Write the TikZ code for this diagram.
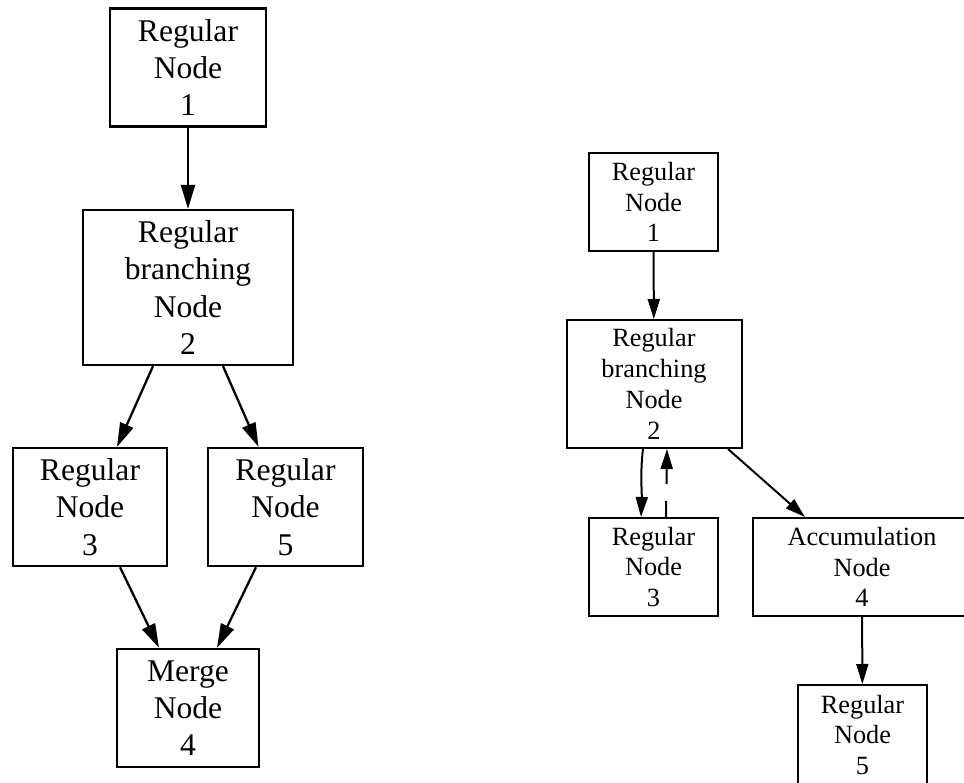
\documentclass[tikz,border=0pt]{standalone}
\usepackage{fontspec}
\setmainfont{Liberation Serif}
\usetikzlibrary{arrows.meta,calc}
\begin{document}
\begin{tikzpicture}[x=1pt,y=-1pt,
  bigbox/.style={draw,line width=2.3pt,inner sep=0pt,align=center,
    font=\fontsize{31.6}{37.2}\selectfont},
  smallbox/.style={draw,line width=2pt,inner sep=0pt,align=center,
    font=\fontsize{26.3}{30.8}\selectfont},
  bigedge/.style={line width=2.3pt,-{Triangle[length=24pt,width=14pt]}},
  smalledge/.style={line width=2pt,-{Triangle[length=20pt,width=12pt]}},
]
\useasboundingbox (0,0) rectangle (964,783);
\clip (0,0) rectangle (964,783);

% left graph: branching and merge
\node[bigbox,minimum width=156pt,minimum height=118pt] (L1) at (188,67.5) {Regular\\Node\\1};
\node[bigbox,minimum width=210pt,minimum height=155pt] (L2) at (188,287.5) {Regular\\branching\\Node\\2};
\node[bigbox,minimum width=154pt,minimum height=118pt] (L3) at (90,507) {Regular\\Node\\3};
\node[bigbox,minimum width=155pt,minimum height=118pt] (L5) at (285.5,507) {Regular\\Node\\5};
\node[bigbox,minimum width=142pt,minimum height=118pt] (L4) at (188,708) {Merge\\Node\\4};

\draw[bigedge] (L1) -- (L2);
\draw[bigedge] ($(L2.south)+(-35,0)$) -- ($(L3.north)+(27,0)$);
\draw[bigedge] ($(L2.south)+(35,0)$) -- ($(L5.north)+(-27,0)$);
\draw[bigedge] ($(L3.south)+(30,0)$) -- ($(L4.north)+(-29,0)$);
\draw[bigedge] ($(L5.south)+(-29.5,0)$) -- ($(L4.north)+(29,0)$);

% right graph: loop back and accumulation
\node[smallbox,minimum width=129pt,minimum height=98pt] (R1) at (653.5,202) {Regular\\Node\\1};
\node[smallbox,minimum width=175pt,minimum height=128pt] (R2) at (654,384) {Regular\\branching\\Node\\2};
\node[smallbox,minimum width=129pt,minimum height=98pt] (R3) at (653.5,567) {Regular\\Node\\3};
\node[smallbox,minimum width=218pt,minimum height=98pt] (R4) at (862,567) {Accumulation\\Node\\4};
\node[smallbox,minimum width=129pt,minimum height=100pt] (R5) at (862.5,735) {Regular\\Node\\5};

\draw[smalledge] (R1) -- (R2);
\draw[smalledge] ($(R2.south)+(-11,0)$) .. controls +(-3,25) and +(1,-25) .. ($(R3.north)+(-12.5,0)$);
\draw[smalledge,dash pattern=on 16pt off 17pt] ($(R3.north)+(12.5,0)$) -- ($(R2.south)+(13,0)$);
\draw[smalledge] ($(R2.south)+(74,0)$) -- ($(R4.north)+(-57,0)$);
\draw[smalledge] (R4) -- (R5);
\end{tikzpicture}
\end{document}
